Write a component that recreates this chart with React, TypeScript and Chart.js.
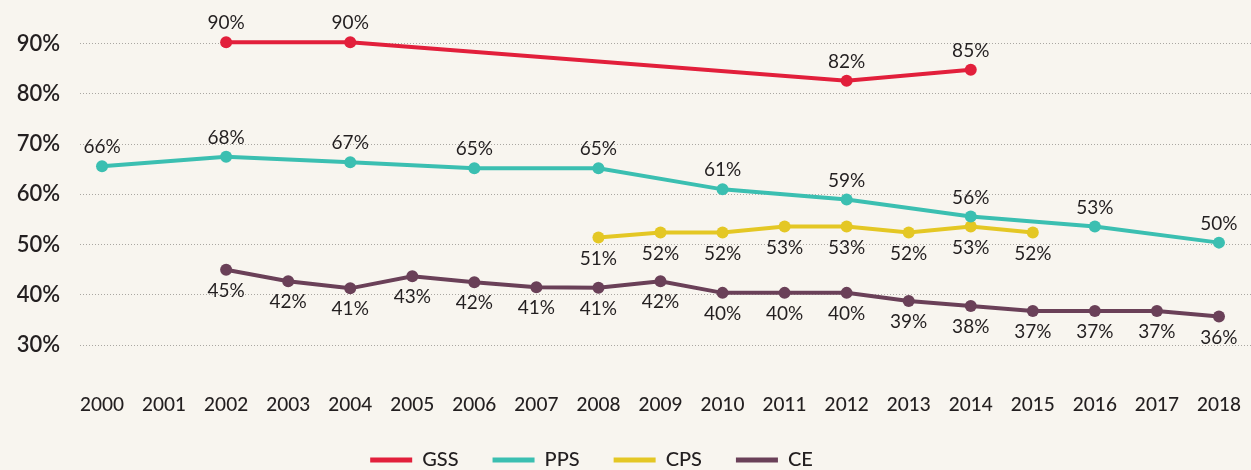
import React, { useEffect, useRef } from "react";
import { Chart, registerables } from "chart.js";

Chart.register(...registerables);

const years = [2000, 2001, 2002, 2003, 2004, 2005, 2006, 2007, 2008, 2009, 2010, 2011, 2012, 2013, 2014, 2015, 2016, 2017, 2018];
const yTicks = [30, 40, 50, 60, 70, 80, 90];

const gssValues = [null, null, 90.3, null, 90.3, null, null, null, null, null, null, null, 82.6, null, 84.8, null, null, null, null];
const gssLabels = [null, null, 90, null, 90, null, null, null, null, null, null, null, 82, null, 85, null, null, null, null];

const ppsValues = [65.6, null, 67.5, null, 66.4, null, 65.2, null, 65.2, null, 61.0, null, 59.0, null, 55.6, null, 53.6, null, 50.4];
const ppsLabels = [66, null, 68, null, 67, null, 65, null, 65, null, 61, null, 59, null, 56, null, 53, null, 50];

const cpsValues = [null, null, null, null, null, null, null, null, 51.4, 52.4, 52.4, 53.6, 53.6, 52.4, 53.6, 52.4, null, null, null];
const cpsLabels = [null, null, null, null, null, null, null, null, 51, 52, 52, 53, 53, 52, 53, 52, null, null, null];

const ceValues = [null, null, 45.0, 42.7, 41.3, 43.7, 42.5, 41.5, 41.4, 42.7, 40.4, 40.4, 40.4, 38.8, 37.8, 36.8, 36.8, 36.8, 35.7];
const ceLabels = [null, null, 45, 42, 41, 43, 42, 41, 41, 42, 40, 40, 40, 39, 38, 37, 37, 37, 36];

const FONT = "Lato, 'Noto Sans', sans-serif";
const TEXT = "#231f20";
const BG = "#f8f5ef";
const SHIFT = 73; // canvas extends left of the page so the legend centres like the reference
const EXTRA_RIGHT = 5;

function toPoints(vals: (number | null)[], labels: (number | null)[]) {
  const out: { x: number; y: number; label: number }[] = [];
  years.forEach((yr, i) => {
    const v = vals[i];
    if (v !== null && v !== undefined) out.push({ x: yr, y: v, label: labels[i] as number });
  });
  return out;
}

const dataLabelPlugin = {
  id: "dataLabels",
  afterDatasetsDraw(chart: any) {
    const ctx = chart.ctx;
    ctx.save();
    ctx.font = `400 19px ${FONT}`;
    ctx.fillStyle = TEXT;
    ctx.textAlign = "center";
    ctx.textBaseline = "middle";
    chart.data.datasets.forEach((ds: any, di: number) => {
      const meta = chart.getDatasetMeta(di);
      const off = ds.labelPos === "above" ? -19 : 21;
      meta.data.forEach((el: any, i: number) => {
        const raw = ds.data[i];
        ctx.fillText(`${raw.label}%`, el.x, el.y + off);
      });
    });
    ctx.restore();
  },
};

const bgPlugin = {
  id: "bg",
  beforeDraw(chart: any) {
    const ctx = chart.ctx;
    ctx.save();
    ctx.fillStyle = BG;
    ctx.fillRect(0, 0, chart.width, chart.height);
    ctx.restore();
  },
};

export default function App() {
  const ref = useRef<HTMLCanvasElement | null>(null);

  useEffect(() => {
    document.body.style.margin = "0";
    document.body.style.background = BG;
    document.body.style.overflow = "hidden";
    if (!ref.current) return;
    const mk = (label: string, color: string, vals: any, labels: any, pos: string) => ({
      label,
      data: toPoints(vals, labels),
      borderColor: color,
      backgroundColor: color,
      pointBackgroundColor: color,
      pointBorderWidth: 0,
      pointRadius: 6,
      borderWidth: 4,
      tension: 0,
      labelPos: pos,
    });
    const chart = new Chart(ref.current, {
      type: "line",
      data: {
        datasets: [
          mk("GSS", "#e21f3b", gssValues, gssLabels, "above"),
          mk("PPS", "#3bbfb1", ppsValues, ppsLabels, "above"),
          mk("CPS", "#e4c724", cpsValues, cpsLabels, "below"),
          mk("CE", "#6a4058", ceValues, ceLabels, "below"),
        ] as any,
      },
      options: {
        animation: false,
        responsive: false,
        maintainAspectRatio: false,
        layout: { autoPadding: false, padding: { left: 0, right: 0, top: 0, bottom: 10 } },
        plugins: {
          tooltip: { enabled: false },
          legend: {
            position: "bottom",
            labels: {
              boxWidth: 42,
              boxHeight: 5,
              padding: 34,
              color: TEXT,
              font: { family: FONT, size: 20, weight: 500 as any },
              generateLabels(chart: any) {
                const items = Chart.defaults.plugins.legend.labels.generateLabels(chart);
                return items.map((it: any) => ({ ...it, lineWidth: 0 }));
              },
            },
          },
        },
        scales: {
          x: {
            type: "linear",
            min: 1999.645,
            max: 2018.532,
            afterBuildTicks(scale: any) {
              scale.ticks = years.map((v) => ({ value: v }));
            },
            afterFit(scale: any) {
              scale.height = 46;
            },
            grid: { display: false },
            border: { display: false },
            ticks: {
              padding: 15,
              color: TEXT,
              font: { family: FONT, size: 19, weight: 500 as any },
              callback: (v: any) => String(v),
              maxRotation: 0,
              autoSkip: false,
            },
          },
          y: {
            min: 25.05,
            max: 92.08,
            afterBuildTicks(scale: any) {
              scale.ticks = yTicks.map((v) => ({ value: v }));
            },
            afterFit(scale: any) {
              scale.width = 80 + SHIFT;
            },
            border: { display: false, dash: [1, 2] },
            grid: {
              color: "#aaa7a2",
              lineWidth: 1,
              drawTicks: false,
            },
            ticks: {
              padding: 20,
              color: TEXT,
              font: { family: FONT, size: 22, weight: 600 as any },
              callback: (v: any) => `${v}%`,
            },
          },
        },
      } as any,
      plugins: [bgPlugin, dataLabelPlugin],
    });
    return () => chart.destroy();
  }, []);

  return (
    <div style={{ width: 1251, height: 470, overflow: "hidden", background: BG, position: "relative" }}>
      <canvas
        ref={ref}
        width={1251 + SHIFT + EXTRA_RIGHT}
        height={490}
        style={{ display: "block", position: "absolute", left: -SHIFT, top: 0 }}
      />
    </div>
  );
}
